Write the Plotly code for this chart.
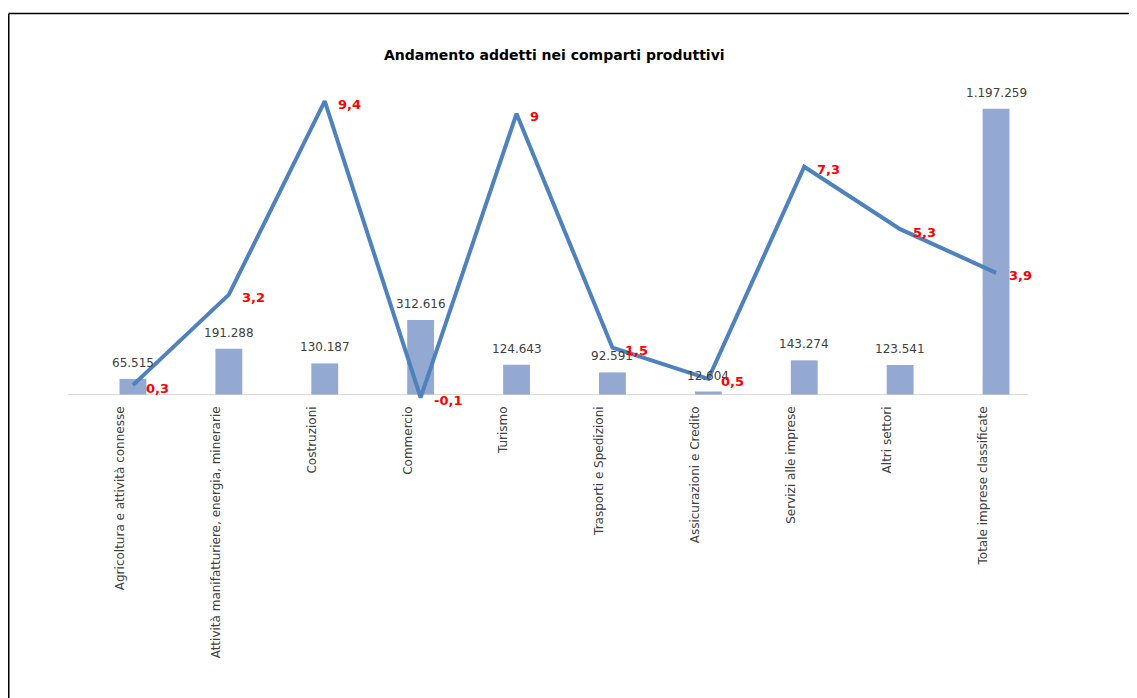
import plotly.graph_objects as go

categories = [
    "Agricoltura e attività connesse",
    "Attività manifatturiere, energia, minerarie",
    "Costruzioni",
    "Commercio",
    "Turismo",
    "Trasporti e Spedizioni",
    "Assicurazioni e Credito",
    "Servizi alle imprese",
    "Altri settori",
    "Totale imprese classificate",
]
addetti = [65515, 191288, 130187, 312616, 124643, 92591, 12604, 143274, 123541, 1197259]
variazione = [0.3, 3.2, 9.4, -0.1, 9.0, 1.5, 0.5, 7.3, 5.3, 3.9]
title_text = "Andamento addetti nei comparti produttivi"

# page body has an 8px margin; figure sized to fit the window
OFF = 8
W, H = 1137 - OFF, 698 - OFF
ML, MR, MT, MB = 77, 93, 52, 297
PW = W - ML - MR
PH = H - MT - MB
FONT = "DejaVu Sans, Liberation Sans, Arial"


def px_x(sx):
    """screen x (window pixels) -> paper x"""
    return (sx - OFF - ML) / PW


def px_y(sy):
    """screen y (window pixels) -> paper y"""
    return (H - MB - (sy - OFF)) / PH


def it_int(v):
    return f"{v:,}".replace(",", ".")


def it_dec(v):
    return f"{v:g}".replace(".", ",")


fig = go.Figure()
fig.add_trace(go.Bar(
    x=categories, y=addetti, width=0.28,
    marker=dict(color="#93A9D1", line=dict(width=0)),
    yaxis="y", hoverinfo="skip",
))
fig.add_trace(go.Scatter(
    x=categories, y=variazione, mode="lines",
    line=dict(color="#4F81BD", width=4),
    yaxis="y2", hoverinfo="skip",
))

annotations = []
for c, v in zip(categories, addetti):
    annotations.append(dict(
        x=c, y=v, xref="x", yref="y", text=it_int(v), showarrow=False,
        yanchor="bottom", yshift=7,
        font=dict(family=FONT, size=12, color="#404040"),
    ))
for c, v in zip(categories, variazione):
    annotations.append(dict(
        x=c, y=v, xref="x", yref="y2", text=f"<b>{it_dec(v)}</b>", showarrow=False,
        xanchor="left", yanchor="middle", xshift=11, yshift=-3,
        font=dict(family=FONT, size=13, color="#FF0000"),
    ))
annotations.append(dict(
    x=px_x(554), y=px_y(55), xref="paper", yref="paper",
    text=f"<b>{title_text}</b>", showarrow=False,
    xanchor="center", yanchor="middle",
    font=dict(family=FONT, size=14, color="#000000"),
))

shapes = [
    # outer chart border (cropped at right and bottom)
    dict(type="line", xref="paper", yref="paper",
         x0=px_x(OFF + 0.75), x1=px_x(1140), y0=px_y(13.5), y1=px_y(13.5),
         line=dict(color="#000000", width=1.5)),
    dict(type="line", xref="paper", yref="paper",
         x0=px_x(OFF + 0.75), x1=px_x(OFF + 0.75), y0=px_y(13.5), y1=px_y(705),
         line=dict(color="#000000", width=1.5)),
    # category axis line at zero
    dict(type="line", xref="paper", yref="y",
         x0=px_x(68), x1=px_x(1028), y0=0, y1=0,
         line=dict(color="#D9D9D9", width=1), layer="below"),
]

fig.update_layout(
    width=W, height=H,
    margin=dict(l=ML, r=MR, t=MT, b=MB, autoexpand=False),
    paper_bgcolor="white", plot_bgcolor="white",
    separators=",.",
    showlegend=False,
    annotations=annotations,
    shapes=shapes,
    xaxis=dict(
        type="category", range=[-0.5, 9.5],
        showgrid=False, showline=False, zeroline=False, ticks="",
        tickangle=-90, ticklabelshift=-13, ticklabelstandoff=2,
        tickfont=dict(family=FONT, size=12, color="#404040"),
    ),
    yaxis=dict(
        range=[-27200, 1401300], showgrid=False, showline=False,
        showticklabels=False, ticks="", zeroline=False,
    ),
    yaxis2=dict(
        range=[-0.208, 10.72], overlaying="y", side="right",
        showgrid=False, showline=False, showticklabels=False, ticks="",
        zeroline=False,
    ),
)

fig.write_html("out.html")
